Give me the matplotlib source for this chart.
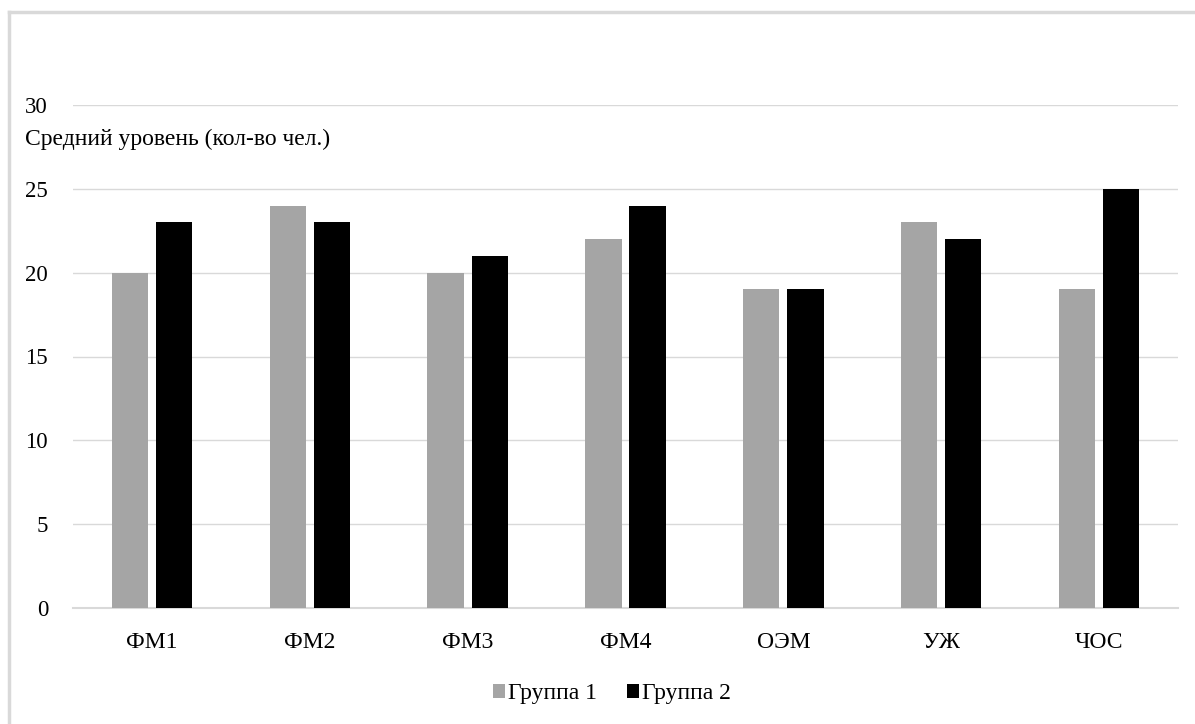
import matplotlib
matplotlib.use("Agg")
import matplotlib.pyplot as plt
import numpy as np
from matplotlib.lines import Line2D

categories = ["ФМ1", "ФМ2", "ФМ3", "ФМ4", "ОЭМ", "УЖ", "ЧОС"]
group1 = [20, 24, 20, 22, 19, 23, 19]
group2 = [23, 23, 21, 24, 19, 22, 25]
series_names = ["Группа 1", "Группа 2"]
yticks = [0, 5, 10, 15, 20, 25, 30]

plt.rcParams['font.family'] = ['Liberation Serif', 'DejaVu Serif']

W, H = 1195, 724
fig = plt.figure(figsize=(W / 100, H / 100), dpi=100)
fig.patch.set_facecolor("white")

# axes placement in pixels
left, right, bottom, top = 73, 1178, 608, 105
ax = fig.add_axes([left / W, 1 - bottom / H, (right - left) / W, (bottom - top) / H])

x = np.arange(len(categories))
w = 0.23
off = 0.14
ax.bar(x - off, group1, width=w, color="#a5a5a5", label=series_names[0], zorder=3)
ax.bar(x + off, group2, width=w, color="#000000", label=series_names[1], zorder=3)

ax.set_xlim(-0.5, len(categories) - 0.5)
ax.set_ylim(0, 30)
ax.set_yticks(yticks)
ax.set_yticklabels([str(v) for v in yticks], fontsize=16.5)
ax.set_xticks(x)
ax.set_xticklabels(categories, fontsize=17)
ax.tick_params(axis='y', length=0, pad=18)
ax.tick_params(axis='x', length=0, pad=17)
ax.grid(axis='y', color="#d9d9d9", linewidth=1.0, zorder=0)
for s in ["left", "right", "top"]:
    ax.spines[s].set_visible(False)
ax.spines["bottom"].set_color("#d9d9d9")
ax.spines["bottom"].set_linewidth(1.5)

fig.text(25 / W, 1 - 139 / H, "Средний уровень (кол-во чел.)", fontsize=17,
         ha="left", va="center")

leg = fig.legend(loc="center", bbox_to_anchor=(612 / W, 1 - 694 / H), ncol=2,
                 frameon=False, fontsize=17, handlelength=0.5, handleheight=0.5,
                 handletextpad=0.12, columnspacing=1.3)

# outer frame (partially visible)
fig.add_artist(Line2D([9 / W, 9 / W], [0, 1 - 12 / H], transform=fig.transFigure,
                      color="#d9d9d9", linewidth=2.5))
fig.add_artist(Line2D([9 / W, 1], [1 - 12 / H, 1 - 12 / H], transform=fig.transFigure,
                      color="#d9d9d9", linewidth=2.5))

fig.savefig("out.png", dpi=100)
